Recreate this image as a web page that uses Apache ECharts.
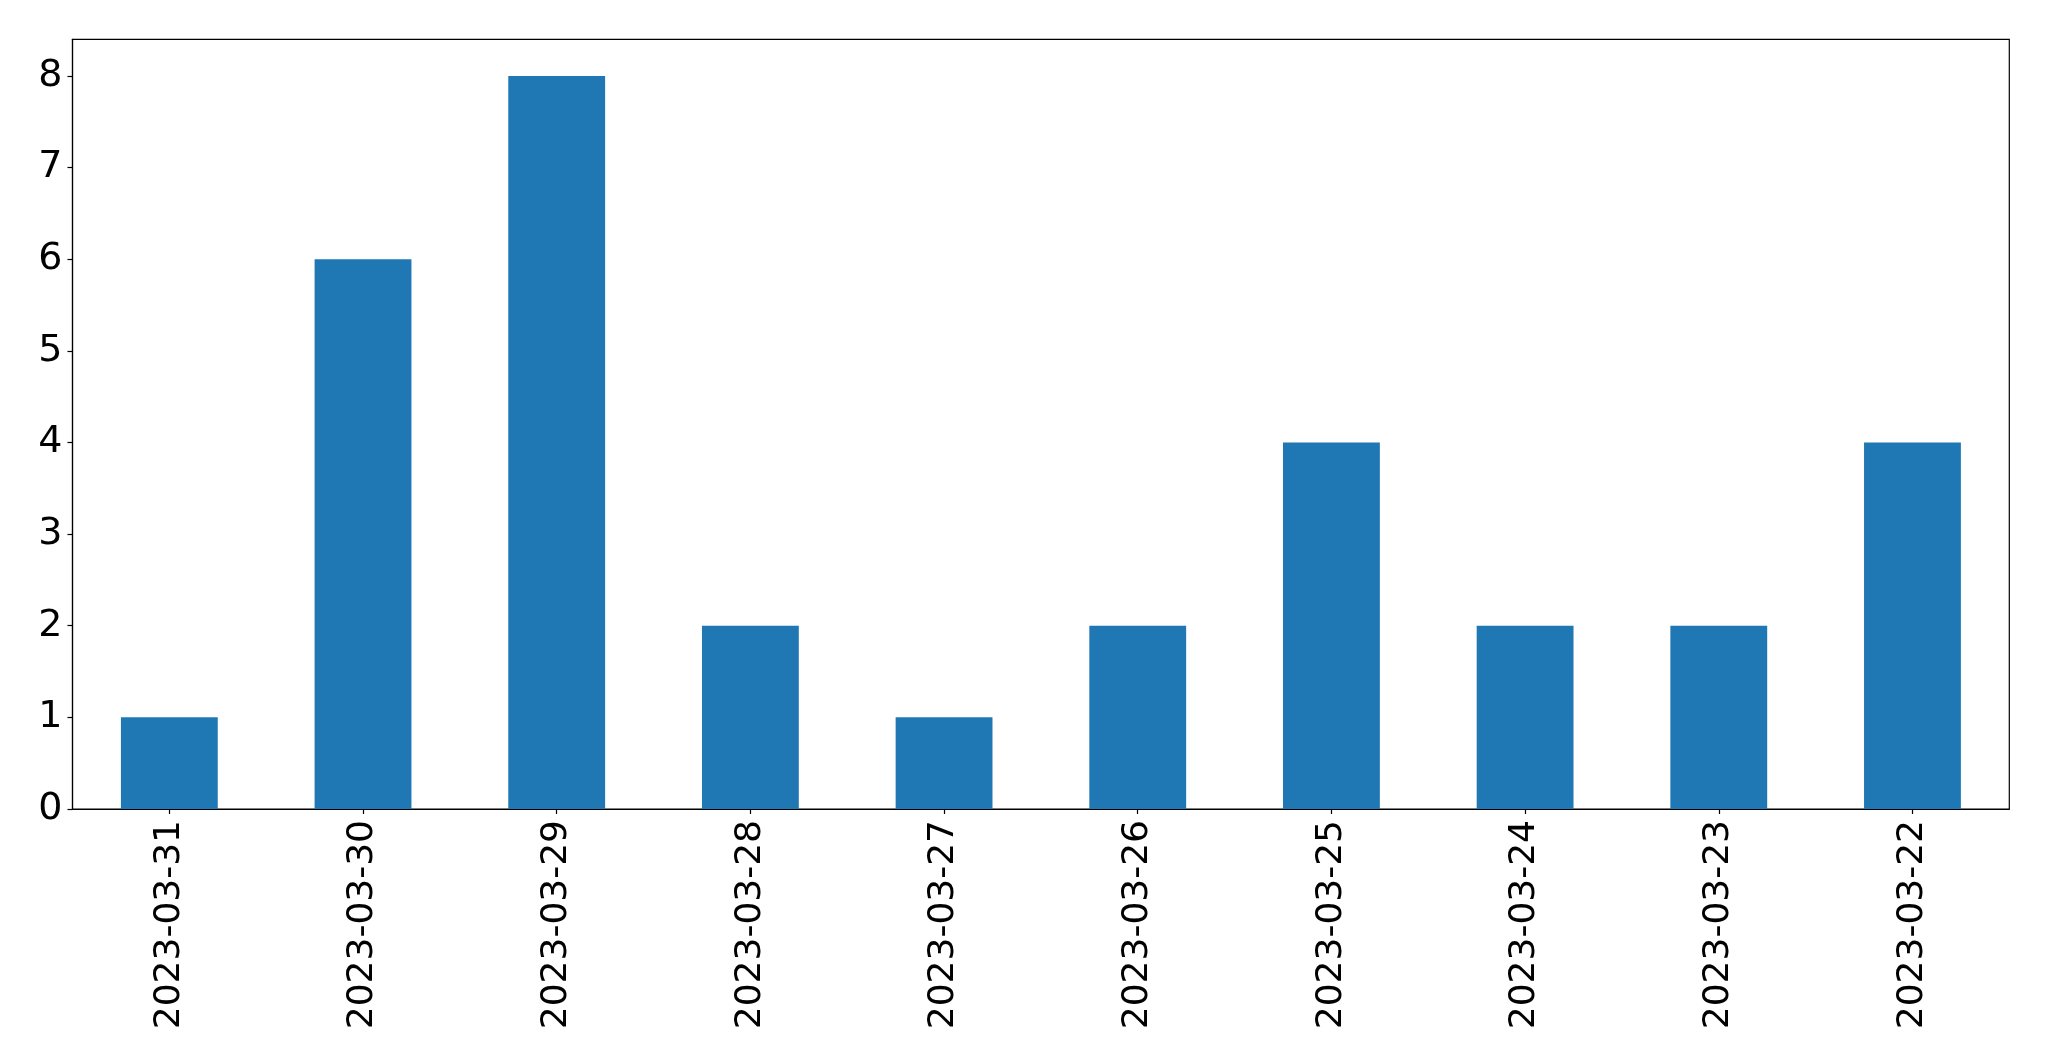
<!DOCTYPE html>
<html>
<head>
<meta charset="utf-8">
<script src="https://cdn.jsdelivr.net/npm/echarts@6/dist/echarts.min.js"></script>
<style>html,body{margin:0;padding:0;background:#fff;}#c{width:2049px;height:1061px;}</style>
</head>
<body>
<div id="c"></div>
<script>
const categories = ['2023-03-31','2023-03-30','2023-03-29','2023-03-28','2023-03-27','2023-03-26','2023-03-25','2023-03-24','2023-03-23','2023-03-22'];
const values = [1, 6, 8, 2, 1, 2, 4, 2, 2, 4];
const yTicks = [0, 1, 2, 3, 4, 5, 6, 7, 8];

const chart = echarts.init(document.getElementById('c'), null, {renderer: 'canvas'});
const font = 'DejaVu Sans';
chart.setOption({
  animation: false,
  backgroundColor: '#fff',
  grid: {left: 72.5, right: 39.7, top: 39.3, bottom: 252, show: true, borderColor: '#000', borderWidth: 1.2, containLabel: false},
  xAxis: {
    type: 'category',
    data: categories,
    boundaryGap: true,
    axisLine: {show: true, lineStyle: {color: '#000', width: 1.2}},
    axisTick: {show: true, alignWithLabel: true, length: 5, lineStyle: {color: '#000', width: 1.2}},
    axisLabel: {rotate: 90, fontSize: 36, fontFamily: font, color: '#000', margin: 11, interval: 0},
    splitLine: {show: false}
  },
  yAxis: {
    type: 'value',
    min: 0, max: 8.4, interval: 1,
    axisLine: {show: true, lineStyle: {color: '#000', width: 1.2}},
    axisTick: {show: true, length: 5, lineStyle: {color: '#000', width: 1.2}, customValues: yTicks},
    axisLabel: {fontSize: 38, fontFamily: font, color: '#000', margin: 10, customValues: yTicks},
    splitLine: {show: false}
  },
  series: [{
    type: 'bar',
    data: values,
    barWidth: '50%',
    itemStyle: {color: '#1f77b4'}
  }]
});
</script>
</body>
</html>
